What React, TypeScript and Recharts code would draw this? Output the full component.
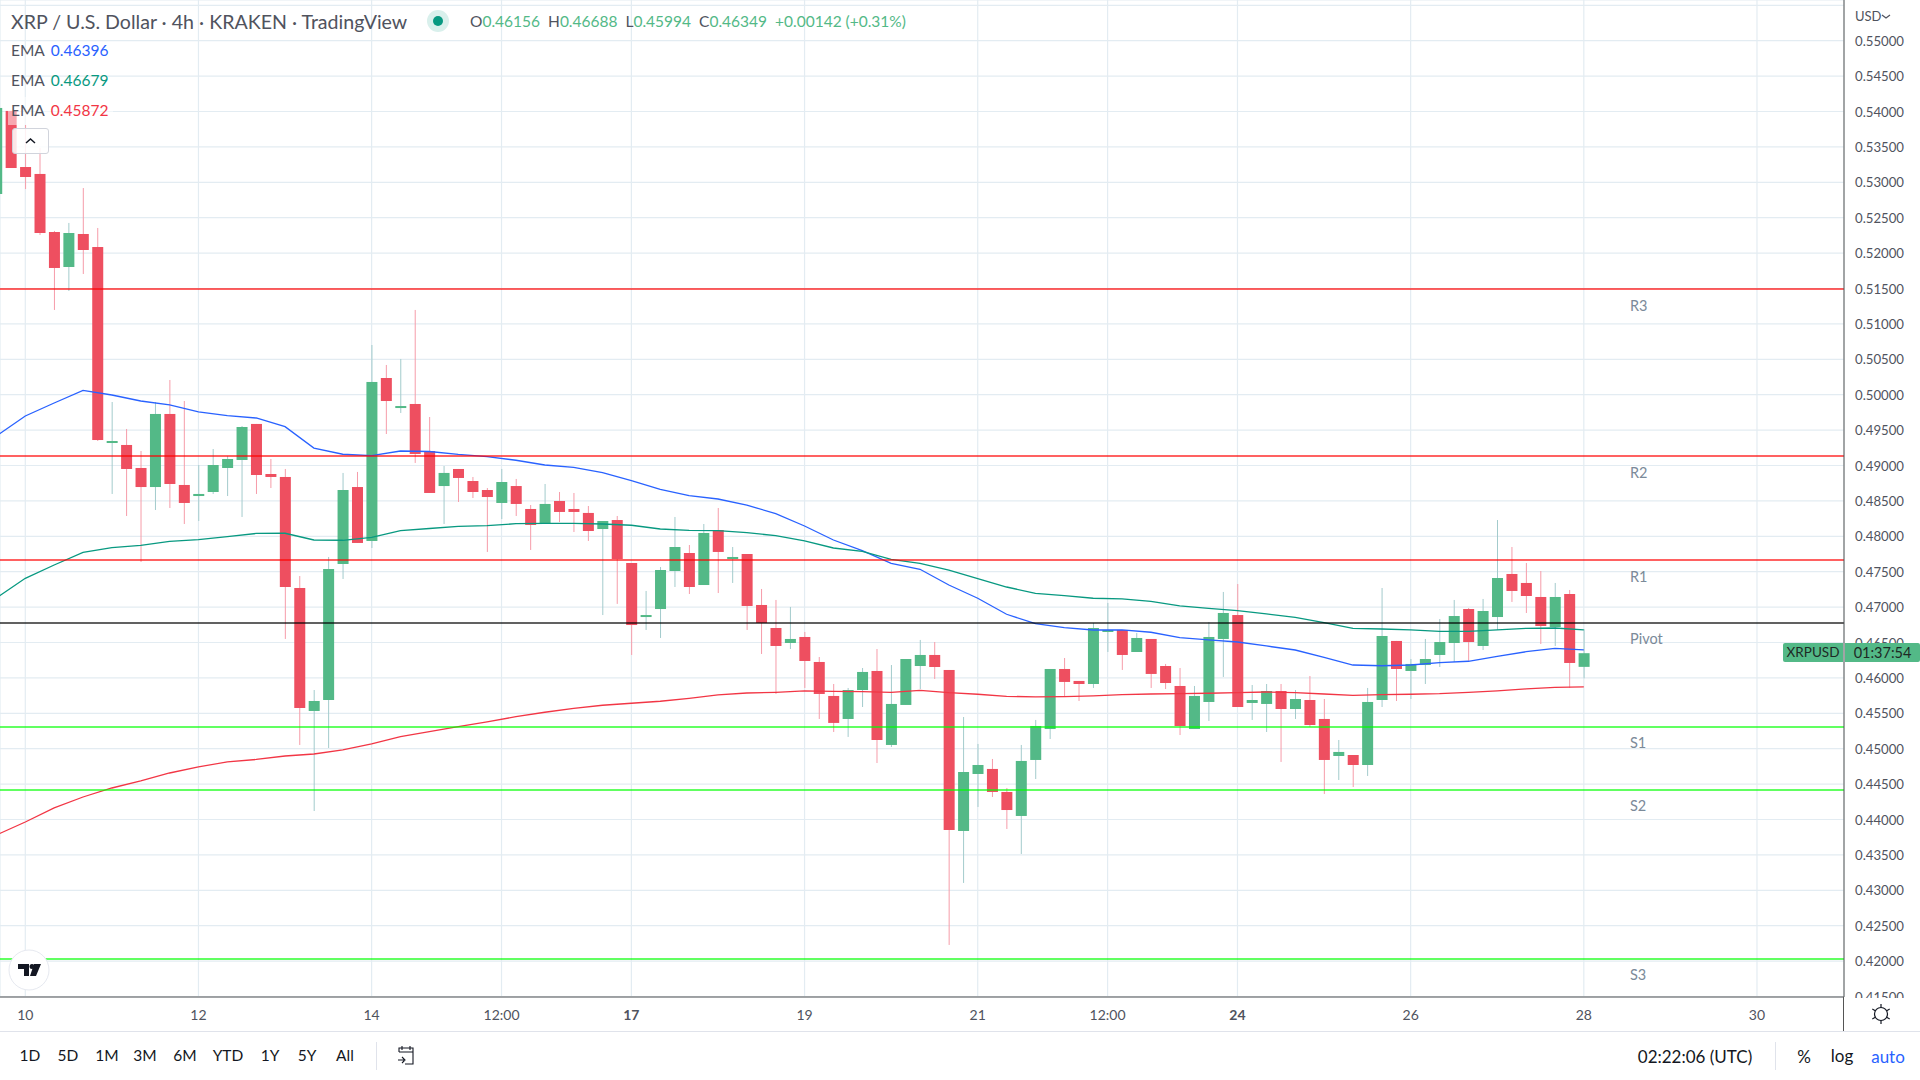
import {
  ComposedChart,
  Bar,
  Line,
  XAxis,
  YAxis,
  CartesianGrid,
  ReferenceLine,
} from 'recharts'

const FONT = 'Lato, "Open Sans", sans-serif'
const TEXT = '#50535e'
const GRID = '#e3ecf2'
const UP = '#53b987'
const DOWN = '#ee4f60'
const UP_WICK = '#a3cbcc'
const DOWN_WICK = '#f69ca9'
const BLUE = '#2962ff'
const TEAL = '#089981'
const RED = '#f23645'

const FIRST_BAR = -2 // candles start two 4h bars left of the "10" tick

const opens = [
  0.52835, 0.54008, 0.53216, 0.53118, 0.52298, 0.51804, 0.5227, 0.52086, 0.49339, 0.4929, 0.48965, 0.48696, 0.49728,
  0.48725, 0.48569, 0.48626, 0.48965, 0.49078, 0.49587, 0.4888, 0.48838, 0.4727, 0.45533, 0.45688, 0.47609, 0.48696,
  0.47934, 0.50236, 0.49812, 0.49869, 0.49205, 0.4871, 0.48951, 0.48781, 0.48654, 0.48471, 0.4871, 0.48386, 0.48174,
  0.48499, 0.48386, 0.4833, 0.48103, 0.4823, 0.47623, 0.4686, 0.46973, 0.4751, 0.47764, 0.47312, 0.48089, 0.47679,
  0.4775, 0.4703, 0.46705, 0.46493, 0.46578, 0.46225, 0.45745, 0.4542, 0.45829, 0.46098, 0.45053, 0.45618, 0.46168,
  0.46324, 0.46112, 0.43838, 0.44643, 0.44714, 0.44389, 0.4405, 0.44841, 0.45278, 0.46126, 0.45957, 0.45914, 0.46649,
  0.46677, 0.46366, 0.4655, 0.46168, 0.45886, 0.45278, 0.4566, 0.4655, 0.46888, 0.45646, 0.45632, 0.45815, 0.45561,
  0.45688, 0.4542, 0.44897, 0.44911, 0.4477, 0.45688, 0.46522, 0.46098, 0.46182, 0.46324, 0.46493, 0.46973, 0.46451,
  0.4686, 0.47468, 0.47341, 0.47143, 0.46719, 0.47185, 0.46156,
]
const closes = [
  0.5405, 0.53202, 0.53075, 0.52284, 0.5179, 0.52284, 0.52044, 0.4936, 0.49346, 0.48951, 0.48696, 0.49728, 0.48739,
  0.48471, 0.48598, 0.49007, 0.49092, 0.49544, 0.48866, 0.48838, 0.47284, 0.45575, 0.45674, 0.47538, 0.48654, 0.47906,
  0.5018, 0.49911, 0.4984, 0.49163, 0.48612, 0.48895, 0.48824, 0.48626, 0.48555, 0.48767, 0.48457, 0.4816, 0.48457,
  0.48344, 0.48344, 0.48075, 0.48216, 0.47679, 0.46747, 0.46888, 0.47524, 0.47849, 0.47284, 0.48047, 0.47779, 0.47708,
  0.47016, 0.46776, 0.46451, 0.4655, 0.46239, 0.45773, 0.45364, 0.45829, 0.46084, 0.45123, 0.45632, 0.46267, 0.46324,
  0.46154, 0.43852, 0.44671, 0.4477, 0.44389, 0.44134, 0.44827, 0.45321, 0.46126, 0.45943, 0.45914, 0.46705, 0.46677,
  0.46324, 0.46564, 0.46056, 0.45928, 0.45321, 0.45745, 0.46578, 0.46917, 0.45589, 0.45688, 0.45815, 0.45561, 0.45702,
  0.45335, 0.44841, 0.44954, 0.4477, 0.4566, 0.46592, 0.46126, 0.46197, 0.46267, 0.46507, 0.46874, 0.46507, 0.46945,
  0.47411, 0.47228, 0.47157, 0.46733, 0.47143, 0.46211, 0.46349,
]
const highs = [
  0.5405, 0.54008, 0.5381, 0.53485, 0.52313, 0.52426, 0.52919, 0.52355, 0.49897, 0.49516, 0.49205, 0.49897, 0.50208,
  0.49911, 0.49007, 0.49233, 0.49134, 0.49558, 0.49587, 0.49092, 0.48951, 0.47439, 0.45829, 0.47708, 0.48895, 0.48909,
  0.50702, 0.5042, 0.50505, 0.51197, 0.49685, 0.48993, 0.48951, 0.48838, 0.48682, 0.48951, 0.4881, 0.48442, 0.48739,
  0.48626, 0.48612, 0.48428, 0.48216, 0.48287, 0.47623, 0.47228, 0.47566, 0.48273, 0.47877, 0.48174, 0.484, 0.47849,
  0.4775, 0.47256, 0.47101, 0.47002, 0.46649, 0.46295, 0.45914, 0.45858, 0.4614, 0.46408, 0.46182, 0.46267, 0.46536,
  0.46507, 0.46112, 0.45448, 0.45067, 0.44855, 0.44445, 0.45053, 0.45406, 0.46126, 0.46281, 0.45957, 0.46776, 0.47059,
  0.46677, 0.46635, 0.4655, 0.46197, 0.4614, 0.45886, 0.4679, 0.47214, 0.47326, 0.459, 0.45914, 0.45914, 0.45829,
  0.46027, 0.45702, 0.45123, 0.44911, 0.45858, 0.4727, 0.46522, 0.46267, 0.4655, 0.46832, 0.47101, 0.46987, 0.47115,
  0.4823, 0.47849, 0.47623, 0.4751, 0.47341, 0.47242, 0.46688,
]
const lows = [
  0.52835, 0.53202, 0.52905, 0.52256, 0.51197, 0.51465, 0.51705, 0.49346, 0.48598, 0.48287, 0.47637, 0.48372, 0.484,
  0.48174, 0.48216, 0.48598, 0.48569, 0.48273, 0.48598, 0.48682, 0.4655, 0.45053, 0.4412, 0.4501, 0.47397, 0.47906,
  0.47835, 0.49445, 0.49742, 0.49036, 0.48612, 0.48174, 0.48485, 0.48541, 0.47779, 0.48244, 0.48287, 0.47807, 0.48174,
  0.48202, 0.48061, 0.47934, 0.46888, 0.47045, 0.46324, 0.46677, 0.46564, 0.47284, 0.47185, 0.47312, 0.47199, 0.47341,
  0.46677, 0.46338, 0.45773, 0.46408, 0.45858, 0.4542, 0.45236, 0.45166, 0.45589, 0.44798, 0.45024, 0.45618, 0.45843,
  0.45985, 0.42228, 0.43104, 0.44177, 0.44318, 0.43866, 0.43513, 0.44572, 0.45137, 0.45731, 0.45674, 0.45858, 0.46366,
  0.46112, 0.46366, 0.45858, 0.45843, 0.45193, 0.45278, 0.45392, 0.46013, 0.45589, 0.45406, 0.45236, 0.44813, 0.4542,
  0.45307, 0.44361, 0.44558, 0.44459, 0.44615, 0.45589, 0.45674, 0.45702, 0.45914, 0.46154, 0.46225, 0.46225, 0.46394,
  0.46677, 0.47073, 0.46917, 0.46479, 0.46451, 0.45858, 0.45994,
]

// EMAs read every second bar, from bar -2 to bar 108
const emaFast = [
  0.49417, 0.49699, 0.49883, 0.50062, 0.49996, 0.49911, 0.49855, 0.49756, 0.49706, 0.49671, 0.49548, 0.49247, 0.49159,
  0.49139, 0.49205, 0.49198, 0.49156, 0.49125, 0.49074, 0.49007, 0.48975, 0.48899, 0.48786, 0.48664, 0.48574, 0.48527,
  0.48442, 0.48319, 0.48146, 0.47948, 0.47797, 0.47619, 0.47534, 0.47312, 0.47125, 0.46899, 0.46766, 0.4671, 0.46677,
  0.46677, 0.46645, 0.46568, 0.46536, 0.46507, 0.46451, 0.46394, 0.46291, 0.46182, 0.46172, 0.46182, 0.46215, 0.46235,
  0.46305, 0.4637, 0.46418, 0.46396,
]
const emaMid = [
  0.47129, 0.47407, 0.47595, 0.47774, 0.47839, 0.47873, 0.47927, 0.47952, 0.47995, 0.4804, 0.48043, 0.47948, 0.47944,
  0.47986, 0.48079, 0.4811, 0.48139, 0.4815, 0.48178, 0.48184, 0.48184, 0.48174, 0.48156, 0.48103, 0.48085, 0.48079,
  0.48051, 0.48009, 0.47934, 0.47835, 0.47788, 0.47675, 0.47619, 0.47524, 0.47402, 0.47284, 0.47195, 0.47161, 0.47125,
  0.47115, 0.47082, 0.47016, 0.46981, 0.4695, 0.46903, 0.46856, 0.4678, 0.46701, 0.46691, 0.46677, 0.46658, 0.46658,
  0.46677, 0.46701, 0.46705, 0.46679,
]
const emaSlow = [
  0.43782, 0.43965, 0.44163, 0.44318, 0.44445, 0.44544, 0.44657, 0.44742, 0.44813, 0.44848, 0.44897, 0.44925, 0.44982,
  0.45067, 0.4517, 0.45241, 0.45311, 0.45378, 0.45453, 0.45515, 0.45571, 0.45614, 0.45642, 0.4567, 0.45712, 0.45759,
  0.45787, 0.45797, 0.45816, 0.45811, 0.45806, 0.45797, 0.45825, 0.45791, 0.45769, 0.4574, 0.45731, 0.45735, 0.45745,
  0.45763, 0.45773, 0.45777, 0.45783, 0.45791, 0.45801, 0.45791, 0.45773, 0.45754, 0.45763, 0.45769, 0.45777, 0.45797,
  0.45816, 0.45844, 0.45865, 0.45872,
]

const priceTicks = [
  0.415, 0.42, 0.425, 0.43, 0.435, 0.44, 0.445, 0.45, 0.455, 0.46, 0.465, 0.47, 0.475, 0.48, 0.485, 0.49, 0.495, 0.5,
  0.505, 0.51, 0.515, 0.52, 0.525, 0.53, 0.535, 0.54, 0.545, 0.55, 0.555,
]
const timeTicks = [0, 12, 24, 33, 42, 54, 66, 75, 84, 96, 108, 120]
const timeLabels = ['10', '12', '14', '12:00', '17', '19', '21', '12:00', '24', '26', '28', '30']
const boldLabels = ['17', '24']

const levelNames = ['R3', 'R2', 'R1', 'Pivot', 'S1', 'S2', 'S3']
const levelPrices = [0.51493, 0.49134, 0.47665, 0.46776, 0.45307, 0.44417, 0.4203]
const levelColors = ['#ff0000', '#ff0000', '#ff0000', '#000000', '#00ff00', '#00ff00', '#00ff00']

const rangeButtons = ['1D', '5D', '1M', '3M', '6M', 'YTD', '1Y', '5Y', 'All']
const rangeButtonX = [30, 68, 107, 145, 185, 228, 270, 307, 345]

const ohlcLabels = ['O', 'H', 'L', 'C']
const ohlcValues = ['0.46156', '0.46688', '0.45994', '0.46349']

const rows = opens.map((open, k) => ({
  bar: k + FIRST_BAR,
  open,
  close: closes[k],
  high: highs[k],
  low: lows[k],
  range: [lows[k], highs[k]],
  fast: k % 2 === 0 ? emaFast[k / 2] : null,
  mid: k % 2 === 0 ? emaMid[k / 2] : null,
  slow: k % 2 === 0 ? emaSlow[k / 2] : null,
}))

function Candle(props: any) {
  const { x, y, width, height, payload } = props
  const { open, close, high, low } = payload
  const top = Math.min(y, y + height)
  const h = Math.abs(height)
  const yOf = (p: number) => top + ((high - p) / (high - low)) * h
  const isUp = close >= open
  const bodyTop = yOf(Math.max(open, close))
  const bodyH = Math.max(yOf(Math.min(open, close)) - bodyTop, 2)
  const cx = x + width / 2
  return (
    <g>
      <line x1={cx} x2={cx} y1={top} y2={top + h} stroke={isUp ? UP_WICK : DOWN_WICK} strokeWidth={1} />
      <rect x={x} y={bodyTop} width={width} height={bodyH} fill={isUp ? UP : DOWN} />
    </g>
  )
}

function TimeTick({ x, y, payload }: any) {
  const label = timeLabels[timeTicks.indexOf(payload.value)]
  return (
    <text
      x={x}
      y={y + 15}
      textAnchor="middle"
      fontFamily={FONT}
      fontSize={14}
      fontWeight={boldLabels.includes(label) ? 700 : 400}
      fill={TEXT}
    >
      {label}
    </text>
  )
}

function PriceTick({ x, y, payload }: any) {
  if (payload.value > 0.55) return null
  return (
    <text x={x + 3} y={y + 5} fontFamily={FONT} fontSize={13.2} fill={TEXT}>
      {payload.value.toFixed(5)}
    </text>
  )
}

function LevelLabel({ viewBox, name }: any) {
  return (
    <text x={1630} y={viewBox.y + 21.5} fontFamily={FONT} fontSize={14.5} fill="#7b8a99">
      {name}
    </text>
  )
}

function Abs({ x, y, children, style }: any) {
  return (
    <div style={{ position: 'absolute', left: x, top: y, whiteSpace: 'nowrap', lineHeight: 1, ...style }}>{children}</div>
  )
}

function Centered({ x, y, children, style }: any) {
  return (
    <Abs x={x} y={y} style={{ transform: 'translate(-50%, -50%)', ...style }}>
      {children}
    </Abs>
  )
}

function Legend() {
  return (
    <>
      <Abs x={11} y={12} style={{ fontSize: 19.6, color: TEXT }}>
        XRP / U.S. Dollar · 4h · KRAKEN · TradingView
      </Abs>
      <svg style={{ position: 'absolute', left: 426, top: 9 }} width={24} height={24}>
        <circle cx={12} cy={12} r={11} fill="#d9f0ec" />
        <circle cx={12} cy={12} r={5} fill={TEAL} />
      </svg>
      <Abs x={470} y={14} style={{ fontSize: 15.5, color: UP }}>
        {ohlcLabels.map((l, i) => (
          <span key={l} style={{ marginRight: 8 }}>
            <span style={{ color: TEXT }}>{l}</span>
            {ohlcValues[i]}
          </span>
        ))}
        <span>+0.00142 (+0.31%)</span>
      </Abs>
      {/* the legend row washes out whatever is behind it */}
      <div style={{ position: 'absolute', left: 8, top: 97, width: 105, height: 28, background: 'rgba(255,255,255,0.5)' }} />
      {[
        { y: 43, value: '0.46396', color: BLUE },
        { y: 73, value: '0.46679', color: TEAL },
        { y: 103, value: '0.45872', color: RED },
      ].map(row => (
        <Abs key={row.value} x={11} y={row.y} style={{ fontSize: 15.5, color: TEXT }}>
          EMA <span style={{ color: row.color, marginLeft: 2.5 }}>{row.value}</span>
        </Abs>
      ))}
      <div
        style={{
          position: 'absolute',
          left: 12,
          top: 128,
          width: 35,
          height: 24,
          borderRadius: 3,
          border: '1px solid #d1d4dc',
          background: 'rgba(255,255,255,0.85)',
        }}
      >
        <svg width={35} height={24}>
          <path d="M13 14l4.5-4 4.5 4" fill="none" stroke="#131722" strokeWidth={1.5} />
        </svg>
      </div>
      <svg style={{ position: 'absolute', left: 8, top: 949 }} width={42} height={42}>
        <circle cx={21} cy={21} r={20} fill="#ffffff" stroke="#e6e9f0" />
        <path d="M10 15h11v12h-5v-7h-6zM26 15h7l-5 12h-6z" fill="#131722" />
        <circle cx={24} cy={17.5} r={2.5} fill="#131722" />
      </svg>
    </>
  )
}

function PriceTag() {
  return (
    <>
      <Abs x={1855} y={10} style={{ fontSize: 13, color: TEXT }}>
        USD
      </Abs>
      <svg style={{ position: 'absolute', left: 1881, top: 13 }} width={10} height={8}>
        <path d="M1 2l4 3 4-3" fill="none" stroke={TEXT} strokeWidth={1.2} />
      </svg>
      <div
        style={{
          position: 'absolute',
          left: 1783,
          top: 643,
          width: 60,
          height: 19,
          background: UP,
          borderRadius: '2px 0 0 2px',
          font: `13.5px ${FONT}`,
          color: '#1e2a25',
          textAlign: 'center',
          lineHeight: '19px',
        }}
      >
        XRPUSD
      </div>
      <div
        style={{
          position: 'absolute',
          left: 1845,
          top: 643,
          width: 75,
          height: 19,
          background: UP,
          borderRadius: '0 2px 2px 0',
          font: `14.5px ${FONT}`,
          color: '#1e2a25',
          textAlign: 'center',
          lineHeight: '19px',
        }}
      >
        01:37:54
      </div>
    </>
  )
}

function BottomBar() {
  return (
    <>
      {/* masks the half-cut 0.41500 label below the axis line */}
      <div style={{ position: 'absolute', left: 1845, top: 998, width: 75, height: 33, background: '#fff' }} />
      <div style={{ position: 'absolute', left: 1843, top: 997, width: 1, height: 34, background: '#555' }} />
      <div style={{ position: 'absolute', left: 0, top: 1031, width: 1920, height: 1, background: '#e0e3eb' }} />
      <svg style={{ position: 'absolute', left: 1869, top: 1002 }} width={24} height={24}>
        <circle cx={12} cy={12} r={6.5} fill="none" stroke="#131722" strokeWidth={1.2} />
        <path d="M12 2v3.5M12 18.5V22M3.3 7l3 1.7M17.7 15.3l3 1.7M3.3 17l3-1.7M17.7 8.7l3-1.7" stroke="#131722" strokeWidth={1.2} />
      </svg>
      {rangeButtons.map((b, i) => (
        <Centered key={b} x={rangeButtonX[i]} y={1056} style={{ fontSize: 15.5, color: '#131722' }}>
          {b}
        </Centered>
      ))}
      <div style={{ position: 'absolute', left: 376, top: 1042, width: 1, height: 28, background: '#e0e3eb' }} />
      <svg style={{ position: 'absolute', left: 396, top: 1045 }} width={20} height={22}>
        <path d="M3 7V3h14v16h-8M3 7h14M6 1v4M14 1v4M2 15h6M6 12l3 3-3 3" fill="none" stroke="#131722" strokeWidth={1.1} />
      </svg>
      <Centered x={1695} y={1056} style={{ fontSize: 17, color: '#131722' }}>
        02:22:06 (UTC)
      </Centered>
      <div style={{ position: 'absolute', left: 1775, top: 1042, width: 1, height: 28, background: '#e0e3eb' }} />
      <Centered x={1804} y={1056} style={{ fontSize: 17, color: '#131722' }}>
        %
      </Centered>
      <Centered x={1842} y={1055} style={{ fontSize: 17, color: '#131722' }}>
        log
      </Centered>
      <Centered x={1888} y={1056} style={{ fontSize: 17, color: BLUE }}>
        auto
      </Centered>
    </>
  )
}

export default function App() {
  return (
    <div
      style={{
        position: 'absolute',
        left: 0,
        top: 0,
        width: 1920,
        height: 1080,
        overflow: 'hidden',
        background: '#fff',
        fontFamily: FONT,
      }}
    >
      <ComposedChart width={1920} height={1080} data={rows} margin={{ top: 0, right: 0, bottom: 0, left: 0 }}>
        <CartesianGrid stroke={GRID} strokeWidth={1.2} />
        <XAxis
          dataKey="bar"
          type="number"
          domain={[-1.753, 126.03]}
          allowDataOverflow
          ticks={timeTicks}
          interval={0}
          height={83}
          stroke="#555555"
          tickLine={false}
          tick={<TimeTick />}
        />
        <YAxis
          orientation="right"
          type="number"
          domain={[0.41493, 0.55575]}
          allowDataOverflow
          ticks={priceTicks}
          interval={0}
          width={76}
          stroke="#555555"
          tickLine={false}
          tick={<PriceTick />}
        />
        <Line dataKey="fast" stroke={BLUE} strokeWidth={1.3} dot={false} connectNulls isAnimationActive={false} />
        <Line dataKey="mid" stroke={TEAL} strokeWidth={1.3} dot={false} connectNulls isAnimationActive={false} />
        <Line dataKey="slow" stroke={RED} strokeWidth={1.3} dot={false} connectNulls isAnimationActive={false} />
        <Bar dataKey="range" barSize={11} shape={<Candle />} isAnimationActive={false} />
        {levelPrices.map((p, i) => (
          <ReferenceLine
            key={levelNames[i]}
            y={p}
            stroke={levelColors[i]}
            strokeOpacity={0.62}
            strokeWidth={2}
            label={<LevelLabel name={levelNames[i]} />}
          />
        ))}
      </ComposedChart>
      <Legend />
      <PriceTag />
      <BottomBar />
    </div>
  )
}
